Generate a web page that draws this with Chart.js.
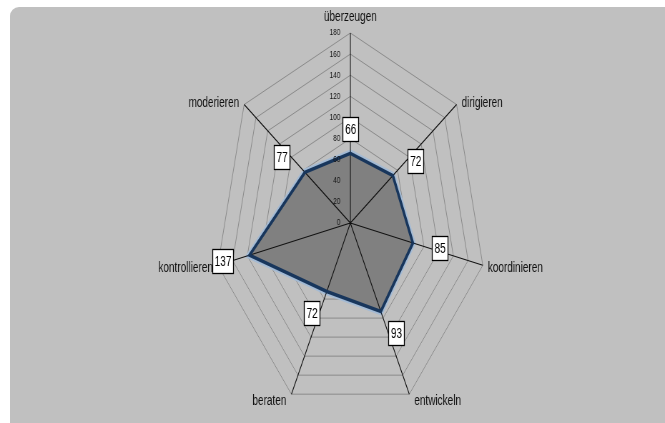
<!DOCTYPE html>
<html>
<head>
<meta charset="utf-8">
<script src="https://cdn.jsdelivr.net/npm/chart.js@4.4.1/dist/chart.umd.min.js"></script>
<style>
    html, body { margin: 0; padding: 0; background: #fff; width: 665px; height: 423px; overflow: hidden; }
    #panel { position: absolute; left: 10px; top: 7px; width: 655px; height: 416px; background: #c0c0c0; border-radius: 9px 0 0 0; }
    /* the sheet is drawn wide and squeezed horizontally */
    #wrap { position: absolute; left: 0; top: 0; width: 930px; height: 423px; transform: scaleX(0.715); transform-origin: 0 0; }
</style>
</head>
<body>
<div id="panel"></div>
<div id="wrap"><canvas id="radarChart"></canvas></div>
<script>
const categories = ['überzeugen', 'dirigieren', 'koordinieren', 'entwickeln', 'beraten', 'kontrollieren', 'moderieren'];
const scores = [66, 72, 85, 93, 72, 137, 77];
const scaleTicks = [0, 20, 40, 60, 80, 100, 120, 140, 160, 180];

const LABEL_FONT = '14px "Liberation Sans", Arial, sans-serif';
const TICK_FONT = '9px "Liberation Sans", Arial, sans-serif';

const excelLook = {
    id: 'excelLook',

    // spokes go over the grey area but under the outline
    beforeDatasetDraw(chart, args) {
        if (args.index !== 0) return;
        const r = chart.scales.r;
        const ctx = chart.ctx;
        ctx.save();
        ctx.strokeStyle = '#101010';
        ctx.lineWidth = 1.1;
        ctx.beginPath();
        categories.forEach((c, i) => {
            const p = r.getPointPositionForValue(i, r.max);
            ctx.moveTo(r.xCenter, r.yCenter);
            ctx.lineTo(p.x, p.y);
        });
        ctx.stroke();
        ctx.restore();
    },

    afterDatasetsDraw(chart) {
        const r = chart.scales.r;
        const ctx = chart.ctx;
        ctx.save();

        // axis numbers left of the vertical spoke
        ctx.font = TICK_FONT;
        ctx.fillStyle = '#111';
        ctx.textAlign = 'right';
        ctx.textBaseline = 'middle';
        scaleTicks.forEach(v => {
            const p = r.getPointPositionForValue(0, v);
            ctx.fillText(String(v), r.xCenter - 14, p.y);
        });

        // category names at the spoke ends
        ctx.font = LABEL_FONT;
        categories.forEach((name, i) => {
            const q = r.getPointPositionForValue(i, r.max);
            const ux = (q.x - r.xCenter) / r.drawingArea;
            const uy = (q.y - r.yCenter) / r.drawingArea;
            if (Math.abs(ux) < 0.01) {
                ctx.textAlign = 'center';
                ctx.fillText(name, q.x, q.y - 15.5);
            } else {
                ctx.textAlign = ux > 0 ? 'left' : 'right';
                ctx.fillText(name, q.x + (ux > 0 ? 7 : -7), q.y + 2 + 5 * uy);
            }
        });

        // value boxes
        ctx.textAlign = 'center';
        scores.forEach((v, i) => {
            const p = r.getPointPositionForValue(i, v);
            const q = r.getPointPositionForValue(i, r.max);
            const ux = (q.x - r.xCenter) / r.drawingArea;
            const uy = (q.y - r.yCenter) / r.drawingArea;
            const cx = p.x + Math.sign(ux) * Math.pow(Math.abs(ux), 0.7) * 38;
            const cy = p.y + uy * 24;
            const w = Math.round(ctx.measureText(String(v)).width + 6);
            const h = 24;
            const x0 = Math.round(cx - w / 2) + 0.5;
            const y0 = Math.round(cy - h / 2) + 0.5;
            ctx.fillStyle = '#fff';
            ctx.fillRect(x0, y0, w, h);
            ctx.strokeStyle = '#000';
            ctx.lineWidth = 1.3;
            ctx.strokeRect(x0, y0, w, h);
            ctx.fillStyle = '#000';
            ctx.fillText(String(v), x0 + w / 2, y0 + h / 2 + 1);
        });

        ctx.restore();
    }
};

const ctx = document.getElementById('radarChart').getContext('2d');
new Chart(ctx, {
    type: 'radar',
    data: {
        labels: categories,
        datasets: [
            {
                data: scores,
                backgroundColor: '#808080',
                borderColor: '#18365c',
                borderWidth: 3.5,
                fill: true,
                pointRadius: 0,
                pointHoverRadius: 0
            },
            {
                // pale rim around the outline
                data: scores,
                borderColor: '#a3bad4',
                borderWidth: 7.5,
                fill: false,
                pointRadius: 0,
                pointHoverRadius: 0
            }
        ]
    },
    options: {
        responsive: true,
        maintainAspectRatio: false,
        animation: false,
        events: [],
        layout: { padding: { left: 300, right: 250, top: 33, bottom: 10 } },
        plugins: {
            legend: { display: false },
            tooltip: { enabled: false }
        },
        scales: {
            r: {
                min: 0,
                max: 180,
                ticks: { stepSize: 20, display: false },
                grid: { color: '#8a8a8a', lineWidth: 1 },
                angleLines: { display: false },
                pointLabels: { display: false }
            }
        }
    },
    plugins: [excelLook]
});
</script>
</body>
</html>
